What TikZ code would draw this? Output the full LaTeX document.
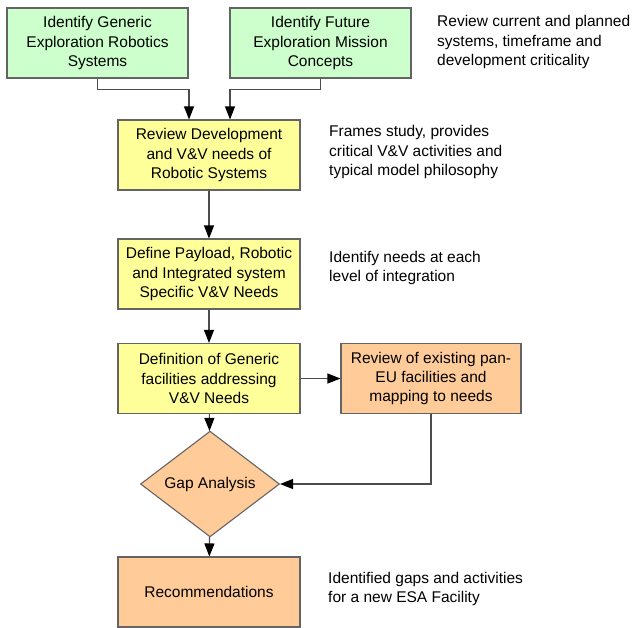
\documentclass[tikz,border=0pt]{standalone}
\usepackage{fontspec}
\setmainfont{Liberation Sans}
\usepackage{tikz}
\usetikzlibrary{shapes.geometric,arrows.meta}

\definecolor{boxgreen}{RGB}{204,255,204}
\definecolor{boxyellow}{RGB}{255,255,153}
\definecolor{boxorange}{RGB}{255,204,153}
\definecolor{edgegray}{RGB}{100,100,100}

\begin{document}
\begin{tikzpicture}[x=1pt, y=-1pt,
  font=\fontsize{15.5}{19.3}\selectfont,
  box/.style={draw=edgegray, line width=1.1pt, align=center, inner sep=0pt, minimum height=70pt},
  note/.style={anchor=west, align=left, inner sep=0pt},
  arr/.style={draw=black!70, line width=1.1pt, -{Triangle[length=13pt,width=10pt,color=black]}}]
  \useasboundingbox (0,0) rectangle (636,627);
  % top row
  \node[box, fill=boxgreen, minimum width=181pt] (gen) at (97.5,43) {Identify Generic\\Exploration Robotics\\Systems};
  \node[box, fill=boxgreen, minimum width=181pt] (fut) at (320.5,43) {Identify Future\\Exploration Mission\\Concepts};
  \node[note] (n1) at (437,42) {Review current and planned\\systems, timeframe and\\development criticality};
  % main column
  \node[box, fill=boxyellow, minimum width=182pt] (rev) at (209,155) {Review Development\\and V\&V needs of\\Robotic Systems};
  \node[note] (n2) at (329,152) {Frames study, provides\\critical V\&V activities and\\typical model philosophy};
  \node[box, fill=boxyellow, minimum width=182pt] (def) at (209,274) {Define Payload, Robotic\\and Integrated system\\Specific V\&V Needs};
  \node[note] (n3) at (329,268) {Identify needs at each\\level of integration};
  \node[box, fill=boxyellow, minimum width=182pt] (fac) at (209,378.5) {Definition of Generic\\facilities addressing\\V\&V Needs};
  \node[box, fill=boxorange, minimum width=180pt] (map) at (431,378.5) {Review of existing pan-\\EU facilities and\\mapping to needs};
  \node[diamond, draw=edgegray, line width=1.1pt, fill=boxorange, inner sep=0pt, minimum width=139pt, minimum height=82pt] (gap) at (210,484) {Gap Analysis};
  \node[box, fill=boxorange, minimum width=182pt] (rec) at (209,592) {Recommendations};
  \node[note] (n4) at (328,589) {Identified gaps and activities\\for a new ESA Facility};
  % connectors
  \draw[arr] (gen.south) -- ++(0,11) -| ([xshift=-20pt]rev.north);
  \draw[arr] (fut.south) -- ++(0,11) -| ([xshift=21pt]rev.north);
  \draw[arr] (rev) -- (def);
  \draw[arr] (def) -- (fac);
  \draw[arr] (fac) -- (map);
  \draw[arr] (fac) -- (gap);
  \draw[arr] (map.south) |- (gap.east);
  \draw[arr] (gap) -- (rec);
\end{tikzpicture}
\end{document}
